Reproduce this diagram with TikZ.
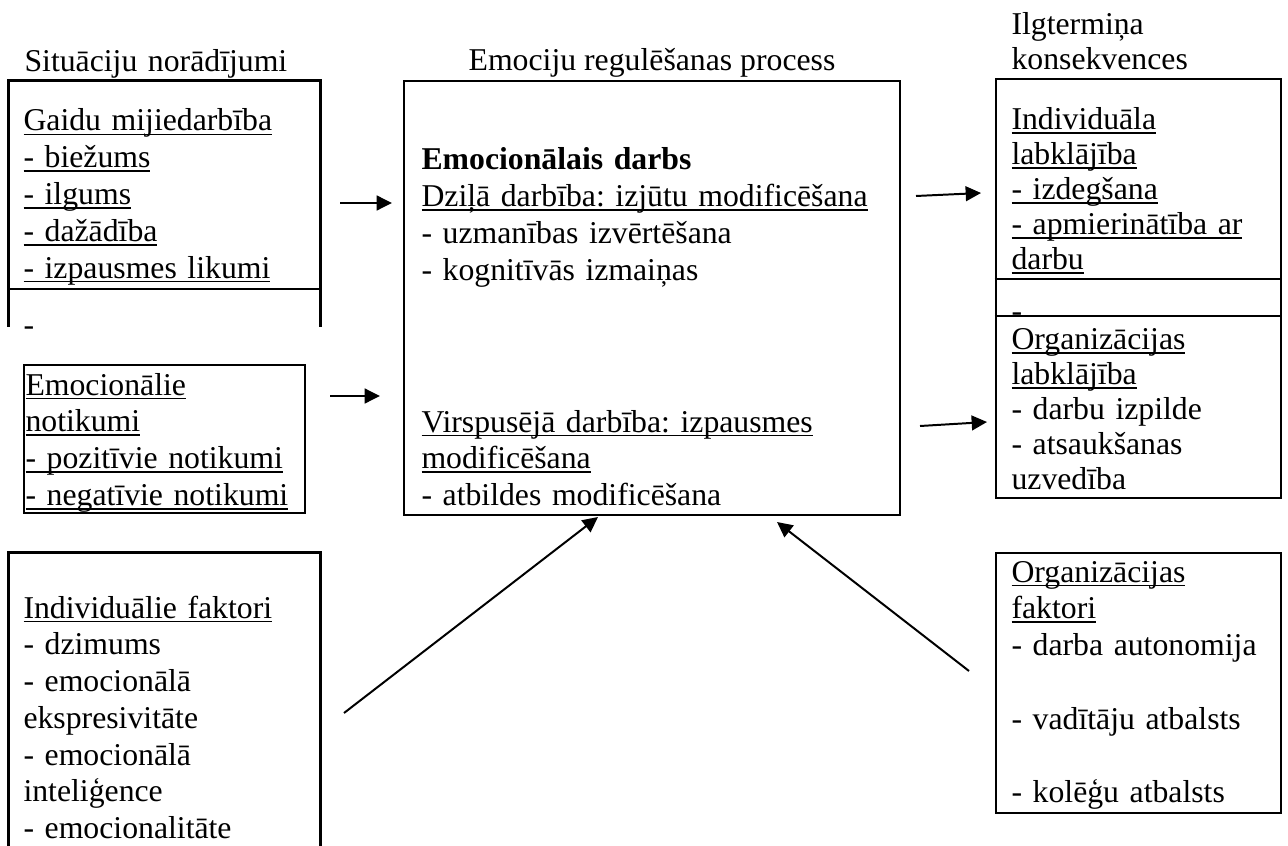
\documentclass[tikz,border=0pt]{standalone}
\usepackage{fontspec}
\setmainfont{Liberation Serif}
\frenchspacing
\usepackage{tikz}
\usetikzlibrary{arrows.meta}
\newsavebox{\undlbox}
\newcommand{\undl}[1]{\sbox{\undlbox}{#1}\leavevmode\rlap{\vrule height -1pt depth 1.6pt width \wd\undlbox}\usebox{\undlbox}}
\tikzset{
  panel/.style={
    draw,
    line width=1pt,
    inner sep=0pt
  },
  openpanel/.style={
    inner sep=0pt
  },
  frameline/.style={
    line width=1pt
  },
  txt/.style={
    anchor=base west,
    inner sep=0pt,
    text width=185pt,
    align=left,
    font=\fontsize{12}{13.9}\selectfont
  },
  txtnarrow/.style={
    txt,
    font=\fontsize{12}{13.25}\selectfont
  },
  conn/.style={
    -{Triangle[length=5.8pt,width=5.6pt]},
    line width=0.75pt
  }
}

\begin{document}
\begin{tikzpicture}[x=0.378pt,y=-0.378pt]
  \useasboundingbox (0,0) rectangle (1288,845);
  % column headings
  \node[txt] (sitTitle) at (24,72) {Situāciju norādījumi};
  \node[anchor=base, inner sep=0pt, font=\fontsize{12}{13.9}\selectfont] (procTitle) at (652,71) {Emociju regulēšanas process};
  \node[txtnarrow, font=\fontsize{12}{13}\selectfont] (ilgTitle) at (1011,35) {Ilgtermiņa\\konsekvences};
  % frames
  \node[openpanel, minimum width=117.56pt, minimum height=92.61pt] (gaidu) at (164.5,203.5) {};
  \node[panel, minimum width=106.22pt, minimum height=55.94pt] (emonot) at (164.5,439) {};
  \node[openpanel, minimum width=117.56pt, minimum height=110.75pt] (indiv) at (164.5,699.5) {};
  \node[panel, minimum width=187.49pt, minimum height=164.05pt] (process) at (652,298) {};
  \node[panel, minimum width=107.73pt, minimum height=158.38pt] (ilgt) at (1138.5,288.5) {};
  \node[panel, minimum width=107.73pt, minimum height=98.28pt] (orgfak) at (1138.5,683) {};
  \draw[frameline] (gaidu.south west) |- (gaidu.north east) -- (gaidu.south east);
  \draw[frameline] (indiv.south west) |- (indiv.north east) -- (indiv.south east);
  \coordinate (gaiduSplit) at (0,289);
  \coordinate (ilgtSplitA) at (0,279);
  \coordinate (ilgtSplitB) at (0,316);
  \draw[frameline] (gaidu.west |- gaiduSplit) -- (gaidu.east |- gaiduSplit);
  \draw[frameline] (ilgt.west |- ilgtSplitA) -- (ilgt.east |- ilgtSplitA);
  \draw[frameline] (ilgt.west |- ilgtSplitB) -- (ilgt.east |- ilgtSplitB);
  % texts
  \node[txt] (gaiduText) at (23,131) {\undl{Gaidu mijiedarbība}\\\undl{- biežums}\\\undl{- ilgums}\\\undl{- dažādība}\\\undl{- izpausmes likumi}};
  \node[txt] (gaiduDash) at (23,335) {-};
  \node[txt] (emonotText) at (25,395) {\undl{Emocionālie}\\\undl{notikumi}\\\undl{- pozitīvie notikumi}\\\undl{- negatīvie notikumi}};
  \node[txt] (indivText) at (23,618) {\undl{Individuālie faktori}\\- dzimums\\- emocionālā\\ekspresivitāte\\- emocionālā\\inteliģence\\- emocionalitāte};
  \node[txt] (deepText) at (421,170) {\textbf{Emocionālais darbs}\\\undl{Dziļā darbība: izjūtu modificēšana}\\- uzmanības izvērtēšana\\- kognitīvās izmaiņas};
  \node[txt] (surfText) at (421,432) {\undl{Virspusējā darbība: izpausmes}\\\undl{modificēšana}\\- atbildes modificēšana};
  \node[txtnarrow] (indWellText) at (1011,129.5) {\undl{Individuāla}\\\undl{labklājība}\\\undl{- izdegšana}\\\undl{- apmierinātība ar}\\\undl{darbu}};
  \node[txtnarrow] (ilgtDash) at (1011,321) {-};
  \node[txtnarrow] (orgWellText) at (1011,349.5) {\undl{Organizācijas}\\\undl{labklājība}\\- darbu izpilde\\- atsaukšanas\\uzvedība};
  \node[txt] (orgfakText) at (1011,582) {\undl{Organizācijas}\\\undl{faktori}\\- darba autonomija\\\mbox{}\\- vadītāju atbalsts\\\mbox{}\\- kolēģu atbalsts};
  % connector ends
  \coordinate (gaiduOut) at (340,203);   \coordinate (deepIn) at (392,203);
  \coordinate (emonotOut) at (330,396);  \coordinate (surfIn) at (380,396);
  \coordinate (deepOut) at (916,196);    \coordinate (indWellIn) at (981,193);
  \coordinate (surfOut) at (920,426);    \coordinate (orgWellIn) at (987,422);
  \coordinate (indivOut) at (344,713);   \coordinate (procInL) at (598,517);
  \coordinate (orgfakOut) at (969,671);  \coordinate (procInR) at (777,522);
  \foreach \from/\to in {gaiduOut/deepIn,emonotOut/surfIn,deepOut/indWellIn,surfOut/orgWellIn,indivOut/procInL,orgfakOut/procInR}{\draw[conn] (\from) -- (\to);}
\end{tikzpicture}
\end{document}
